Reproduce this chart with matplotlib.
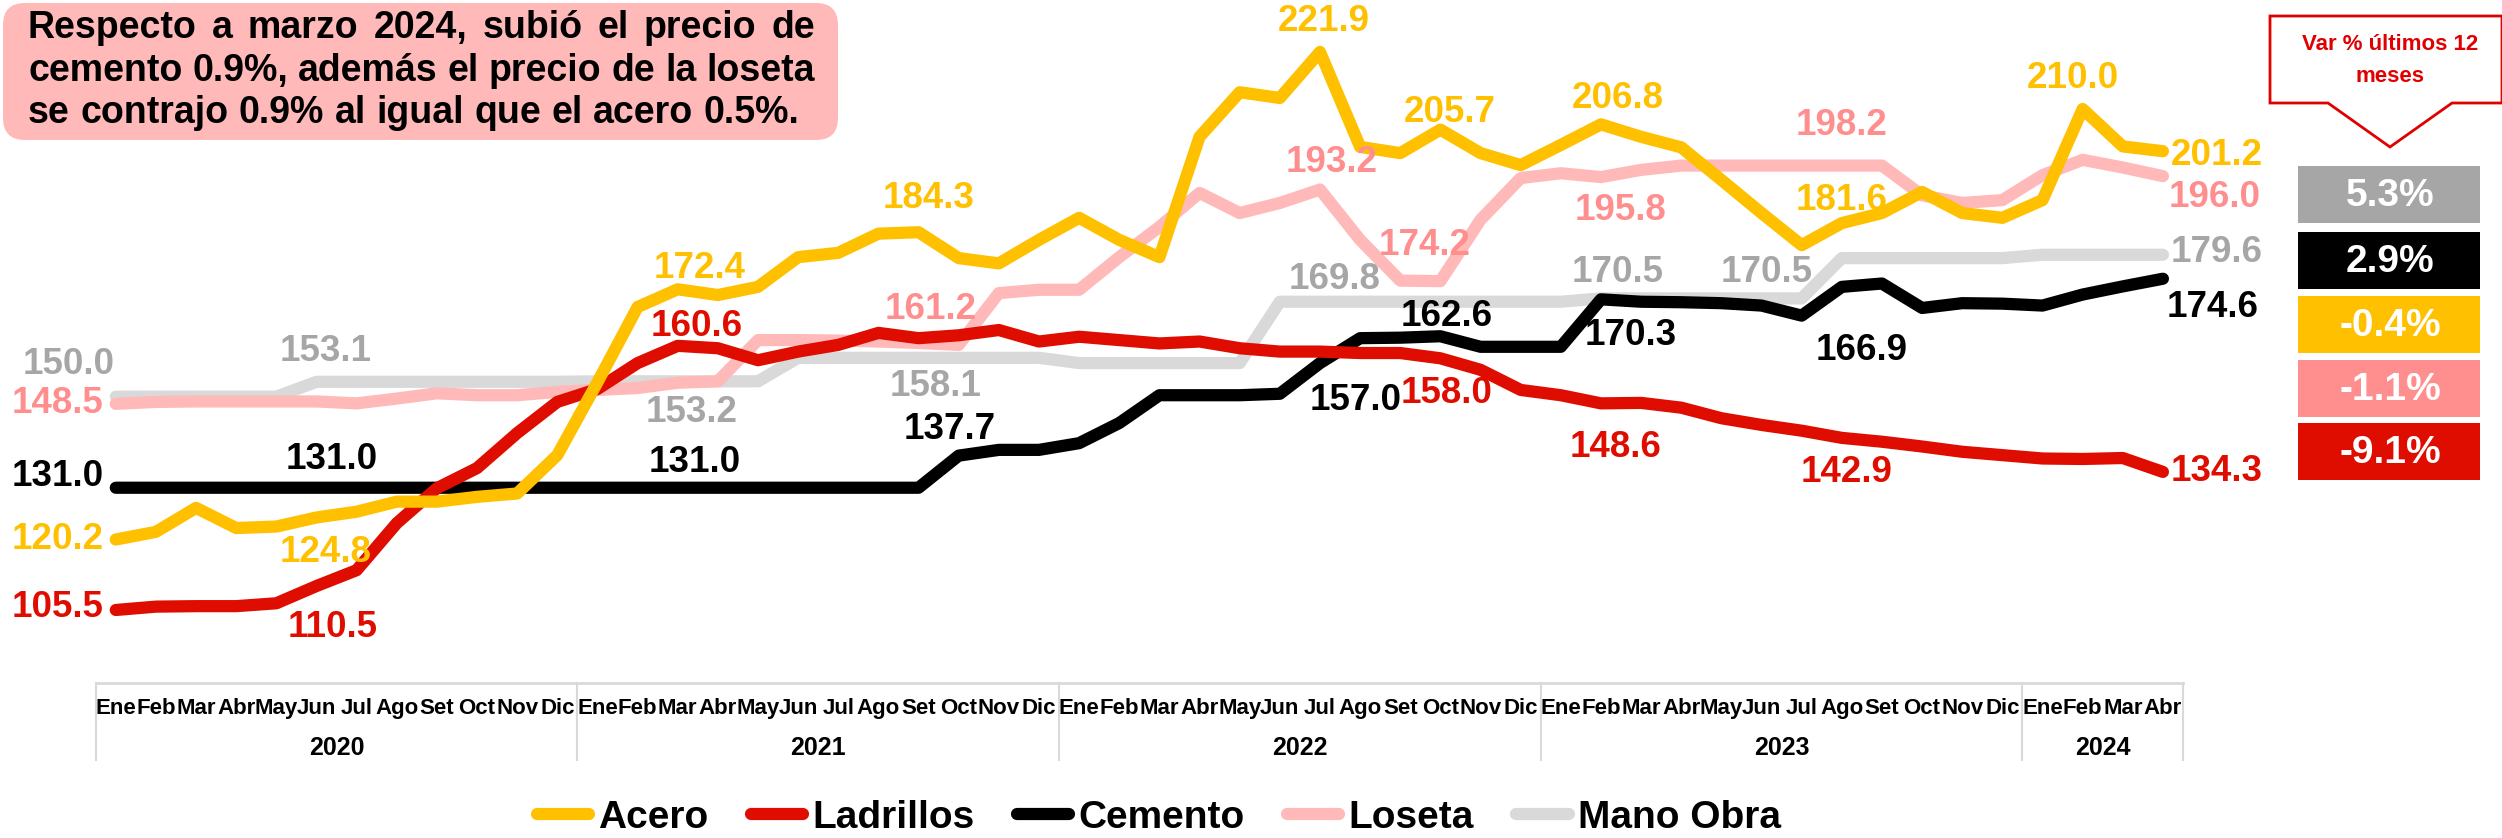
import matplotlib
matplotlib.use("Agg")
import matplotlib.pyplot as plt
from matplotlib.patches import FancyBboxPatch, Polygon, Rectangle
from matplotlib.lines import Line2D
from matplotlib.transforms import IdentityTransform, blended_transform_factory

# ---- data ----
meses = ["Ene", "Feb", "Mar", "Abr", "May", "Jun", "Jul", "Ago", "Set", "Oct", "Nov", "Dic"] * 4 + ["Ene", "Feb", "Mar", "Abr"]
anios = ["2020", "2021", "2022", "2023", "2024"]
meses_por_anio = [12, 12, 12, 12, 4]

acero = [120.2, 121.8, 126.8, 122.6, 122.9, 124.8, 126.0, 128.1, 128.1, 129.1, 129.8, 137.8,
         153.0, 168.7, 172.4, 171.2, 172.9, 179.1, 180.0, 184.0, 184.3, 178.9, 177.8, 182.7,
         187.3, 182.7, 179.1, 204.2, 213.5, 212.3, 221.9, 202.1, 200.8, 205.7, 200.8, 198.3,
         202.5, 206.8, 204.2, 202.0, 195.2, 188.3, 181.6, 186.2, 188.3, 192.7, 188.3, 187.3,
         191.0, 210.0, 202.2, 201.2]
ladrillos = [105.5, 106.2, 106.3, 106.3, 106.9, 110.5, 113.8, 123.6, 130.9, 135.1, 142.4, 148.9,
             151.6, 157.0, 160.6, 160.1, 157.6, 159.4, 160.8, 163.3, 162.2, 162.8, 163.9, 161.5,
             162.5, 161.8, 161.1, 161.5, 160.1, 159.4, 159.4, 159.1, 159.1, 158.0, 155.6, 151.4,
             150.3, 148.6, 148.7, 147.7, 145.5, 144.1, 142.9, 141.4, 140.6, 139.6, 138.5, 137.8,
             137.1, 137.0, 137.2, 134.3]
cemento = [131.0] * 21 + [137.7, 138.9, 138.9,
           140.3, 144.5, 150.3, 150.3, 150.3, 150.6, 157.0, 162.2, 162.3, 162.6, 160.4, 160.4,
           160.4, 170.3, 169.8, 169.7, 169.5, 169.0, 166.9, 172.9, 173.6, 168.5, 169.5, 169.4,
           169.0, 171.3, 173.0, 174.6]
loseta = [148.5, 148.9, 149.0, 149.0, 149.0, 149.0, 148.6, 149.6, 150.7, 150.3, 150.3, 151.0,
          151.4, 151.8, 152.9, 153.2, 161.8, 161.8, 161.7, 161.5, 161.2, 160.8, 171.6, 172.3,
          172.3, 179.1, 185.4, 192.5, 188.3, 190.4, 193.2, 182.7, 174.2, 174.1, 186.9, 195.6,
          196.6, 195.8, 197.3, 198.2, 198.2, 198.2, 198.2, 198.2, 198.2, 192.0, 190.4, 191.0,
          196.2, 199.4, 197.8, 196.0]
mano_obra = [150.0] * 5 + [153.1] * 7 + [153.2] * 5 + [158.1] * 7 + [157.0] * 5 + [169.8] * 8 + \
            [170.5] * 6 + [178.9] * 5 + [179.6] * 4

var_12m = ["5.3%", "2.9%", "-0.4%", "-1.1%", "-9.1%"]

texto = ["Respecto a marzo 2024, subió el precio de",
         "cemento 0.9%, además el precio de la loseta",
         "se contrajo 0.9% al igual que el acero 0.5%."]

# ---- style ----
plt.rcParams["font.family"] = ["Liberation Sans", "DejaVu Sans"]
plt.rcParams["font.weight"] = "bold"

AMARILLO, ROJO, NEGRO = "#FFC000", "#DF0C00", "#000000"
ROSA_L, ROSA_T = "#FFB9B9", "#FF8F8F"
GRIS_L, GRIS_T = "#D9D9D9", "#A6A6A6"
LW = 8.8

series = [
    ("Mano Obra", mano_obra, GRIS_L, GRIS_T),
    ("Loseta", loseta, ROSA_L, ROSA_T),
    ("Cemento", cemento, NEGRO, NEGRO),
    ("Ladrillos", ladrillos, ROJO, ROJO),
    ("Acero", acero, AMARILLO, AMARILLO),
]

# label offsets in pixels (index, dx, dy)
etiquetas = {
    "Acero": [(0, -58, 0), (5, 9, -35), (14, 22, 21), (20, 10, 34), (30, 4, 30), (33, 9, 17),
              (37, 17, 26), (42, 40, 45), (49, -10, 31), (51, 54, -4)],
    "Ladrillos": [(0, -58, 2), (5, 16, -41), (14, 19, 19), (33, 6, -35), (37, 15, -44),
                  (42, 45, -42), (51, 54, 0)],
    "Cemento": [(0, -58, 11), (5, 15, 28), (14, 17, 25), (21, -9, 26), (30, 36, -37),
                (33, 6, 20), (37, 30, -36), (42, 60, -35), (51, 50, -29)],
    "Loseta": [(0, -58, 0), (20, 12, 33), (30, 12, 27), (32, 24, 35), (37, 20, -33),
               (43, 0, 40), (51, 52, -21)],
    "Mano Obra": [(0, -47, 32), (5, 9, 30), (14, 14, -31), (20, 17, -29), (30, 15, 22),
                  (37, 17, 26), (41, 5, 26), (51, 54, 2)],
}

W, H = 2502, 838
fig = plt.figure(figsize=(W / 100, H / 100), dpi=100)
ax = fig.add_axes([95.7 / W, (H - 683) / H, (2183 - 95.7) / W, 683 / H])

x = list(range(len(meses)))
for nombre, vals, cl, ct in series:
    ax.plot(x, vals, color=cl, lw=LW, solid_capstyle="round", solid_joinstyle="round")
    for i, dx, dy in etiquetas[nombre]:
        ax.annotate(f"{vals[i]:.1f}", (i, vals[i]), xytext=(dx, dy), textcoords="offset pixels",
                    ha="center", va="center", color=ct, fontsize=26.5, fontweight="bold")

ax.set_xlim(-0.5, len(meses) - 0.5)
ax.set_ylim(90.27, 232.74)
ax.set_xticks([])
ax.set_yticks([])
for s in ["top", "left", "right"]:
    ax.spines[s].set_visible(False)
ax.spines["bottom"].set_color(GRIS_L)
ax.spines["bottom"].set_linewidth(2)

# category axis
tr = blended_transform_factory(ax.transData, ax.transAxes)
for i, m in enumerate(meses):
    ax.text(i, -25 / 683, m, transform=tr, ha="center", va="center", fontsize=16, fontweight="bold")
inicio = -0.5
ax.plot([inicio, inicio], [0, -77 / 683], transform=tr, color=GRIS_L, lw=1.5, clip_on=False)
for anio, n in zip(anios, meses_por_anio):
    fin = inicio + n
    ax.plot([fin, fin], [0, -77 / 683], transform=tr, color=GRIS_L, lw=1.5, clip_on=False)
    ax.text((inicio + fin) / 2, -65 / 683, anio, transform=tr, ha="center", va="center",
            fontsize=18, fontweight="bold")
    inicio = fin

# legend
orden = ["Acero", "Ladrillos", "Cemento", "Loseta", "Mano Obra"]
col = {n: c for n, _, c, _ in series}
handles = [Line2D([0], [0], color=col[n], lw=LW, solid_capstyle="round") for n in orden]
fig.legend(handles, orden, loc="center left", bbox_to_anchor=(537 / W, 1 - 818 / H), ncol=5,
           frameon=False, prop={"size": 28, "weight": "bold"}, handlelength=1.34,
           handletextpad=0.23, columnspacing=1.1, borderpad=0, borderaxespad=0)

# text box top-left
idt = IdentityTransform()
fig.add_artist(FancyBboxPatch((3, H - 140), 835, 137, boxstyle="round,pad=0,rounding_size=22",
                              transform=idt, fc=ROSA_L, ec="none"))
renderer = fig.canvas.get_renderer()
fs_box = 27
izq, der = 28, 815
bases = [38, 81, 123]
for k, linea in enumerate(texto):
    palabras = linea.split()
    objs = [fig.text(0, 1 - bases[k] / H, p, fontsize=fs_box, fontweight="bold", va="baseline")
            for p in palabras]
    anchos = [o.get_window_extent(renderer).width for o in objs]
    if k < len(texto) - 1:
        hueco = max((der - izq - sum(anchos)) / (len(palabras) - 1), fs_box * 100 / 72 * 0.2)
    else:
        hueco = fs_box * 100 / 72 * 0.278
    xp = izq
    for o, a in zip(objs, anchos):
        o.set_x(xp / W)
        xp += a + hueco

# callout
fig.add_artist(Polygon([(2270, H - 16), (2502, H - 16), (2502, H - 103), (2452, H - 103),
                        (2390, H - 147), (2328, H - 103), (2270, H - 103)], closed=True,
                       transform=idt, fc="white", ec="#E00000", lw=2))
fig.text(2390 / W, 1 - 45 / H, "Var % últimos 12", ha="center", va="center", color="#E00000",
         fontsize=16, fontweight="bold")
fig.text(2390 / W, 1 - 77 / H, "meses", ha="center", va="center", color="#E00000",
         fontsize=16, fontweight="bold")

# variation boxes
cajas_col = [GRIS_T, NEGRO, AMARILLO, ROSA_T, ROJO]
cajas_y = [166, 232, 296, 360, 423]
for v, c, y0 in zip(var_12m, cajas_col, cajas_y):
    fig.add_artist(Rectangle((2298, H - y0 - 57), 182, 57, transform=idt, fc=c, ec="none"))
    fig.text(2390 / W, 1 - (y0 + 30) / H, v, ha="center", va="center", color="white",
             fontsize=28, fontweight="bold")

fig.savefig("out.png", dpi=100)
